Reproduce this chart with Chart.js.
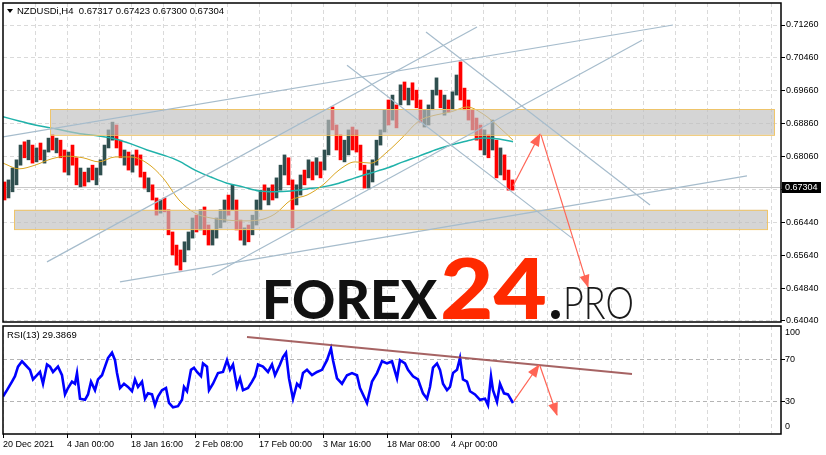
<!DOCTYPE html>
<html>
<head>
<meta charset="utf-8">
<script src="https://cdn.jsdelivr.net/npm/chart.js@4.4.0/dist/chart.umd.min.js"></script>
<style>
html, body { margin: 0; padding: 0; background: #fff; }
#wrap { position: relative; width: 826px; height: 455px; overflow: hidden; }
#price { position: absolute; left: 0; top: 0; }
#rsi { position: absolute; left: 0; top: 323px; }
</style>
</head>
<body>
<div id="wrap">
  <canvas id="price" width="826" height="323"></canvas>
  <canvas id="rsi" width="826" height="132"></canvas>
</div>
<script>
// one column = 4 H4 bars, bar index 0 = 20 Dec 2021 00:00
const BAR = 4;
const firstOpen = 0.6740;
const hi = [0.6743,0.6748,0.6777,0.6797,0.6833,0.6841,0.6845,0.6833,0.6826,0.6838,0.6821,0.6850,0.6858,0.6850,0.6845,0.6821,
  0.6816,0.6833,0.6802,0.6777,0.6767,0.6777,0.6784,0.6777,0.6797,0.6833,0.6870,0.6889,0.6882,0.6845,0.6821,0.6816,
  0.6809,0.6821,0.6809,0.6767,0.6753,0.6736,0.6704,0.6699,0.6704,0.6675,0.6621,0.6589,0.6577,0.6597,0.6621,0.6655,
  0.6662,0.6675,0.6682,0.6638,0.6626,0.6655,0.6675,0.6699,0.6711,0.6736,0.6699,0.6650,0.6631,0.6638,0.6662,0.6699,
  0.6723,0.6736,0.6728,0.6736,0.6753,0.6784,0.6809,0.6802,0.6748,0.6736,0.6760,0.6772,0.6797,0.6792,0.6802,0.6792,
  0.6821,0.6894,0.6926,0.6882,0.6858,0.6845,0.6870,0.6877,0.6870,0.6833,0.6784,0.6772,0.6797,0.6845,0.6870,0.6919,
  0.6943,0.6955,0.6931,0.6980,0.6987,0.6972,0.6985,0.6967,0.6943,0.6919,0.6931,0.6967,0.6997,0.6967,0.6955,0.6943,
  0.6963,0.7004,0.7036,0.6972,0.6943,0.6919,0.6899,0.6882,0.6870,0.6858,0.6894,0.6845,0.6826,0.6809,0.6772,0.6748];
const lo = [0.6699,0.6704,0.6719,0.6736,0.6784,0.6802,0.6797,0.6789,0.6792,0.6797,0.6789,0.6816,0.6821,0.6814,0.6802,0.6767,
  0.6760,0.6784,0.6736,0.6731,0.6733,0.6743,0.6748,0.6736,0.6760,0.6784,0.6826,0.6845,0.6826,0.6802,0.6784,0.6772,
  0.6767,0.6784,0.6755,0.6728,0.6719,0.6699,0.6662,0.6667,0.6670,0.6614,0.6565,0.6540,0.6528,0.6548,0.6577,0.6606,
  0.6621,0.6626,0.6614,0.6589,0.6589,0.6606,0.6631,0.6645,0.6662,0.6675,0.6626,0.6601,0.6589,0.6597,0.6614,0.6638,
  0.6675,0.6699,0.6687,0.6699,0.6704,0.6723,0.6760,0.6736,0.6631,0.6687,0.6711,0.6736,0.6753,0.6748,0.6760,0.6753,
  0.6772,0.6809,0.6870,0.6821,0.6797,0.6792,0.6809,0.6821,0.6816,0.6772,0.6728,0.6728,0.6743,0.6784,0.6833,0.6865,
  0.6882,0.6894,0.6875,0.6931,0.6943,0.6931,0.6943,0.6924,0.6889,0.6877,0.6882,0.6919,0.6955,0.6924,0.6906,0.6914,
  0.6919,0.6955,0.6943,0.6919,0.6894,0.6870,0.6845,0.6821,0.6809,0.6802,0.6821,0.6753,0.6760,0.6748,0.6723,0.6723];
const cl = [0.6711,0.6736,0.6772,0.6789,0.6821,0.6809,0.6833,0.6797,0.6816,0.6802,0.6809,0.6845,0.6833,0.6845,0.6809,0.6784,
  0.6809,0.6797,0.6743,0.6767,0.6743,0.6772,0.6753,0.6772,0.6792,0.6826,0.6865,0.6877,0.6833,0.6809,0.6816,0.6784,
  0.6802,0.6792,0.6760,0.6736,0.6748,0.6704,0.6687,0.6699,0.6675,0.6621,0.6577,0.6565,0.6548,0.6589,0.6614,0.6645,
  0.6631,0.6662,0.6626,0.6601,0.6614,0.6645,0.6662,0.6687,0.6675,0.6711,0.6638,0.6606,0.6621,0.6601,0.6655,0.6687,
  0.6711,0.6704,0.6723,0.6704,0.6748,0.6777,0.6797,0.6743,0.6687,0.6728,0.6753,0.6748,0.6789,0.6760,0.6797,0.6772,
  0.6816,0.6889,0.6882,0.6833,0.6809,0.6841,0.6858,0.6833,0.6826,0.6784,0.6736,0.6767,0.6784,0.6838,0.6865,0.6914,
  0.6899,0.6943,0.6889,0.6972,0.6955,0.6967,0.6955,0.6943,0.6899,0.6914,0.6924,0.6963,0.6967,0.6931,0.6943,0.6924,
  0.6955,0.6987,0.6955,0.6931,0.6906,0.6882,0.6858,0.6833,0.6845,0.6821,0.6845,0.6772,0.6809,0.6760,0.6736,0.6730];

const maBars = [0,16,32,48,64,80,96,112,128,144,160,176,192,208,224,240,256,272,288,304,320,336,352,368,384,400,416,432,448,464,480,496,510];
const ma50 = [0.6789,0.6775,0.6784,0.6799,0.6806,0.6802,0.6792,0.6804,0.6804,0.6789,0.6753,0.6699,0.6667,0.6655,0.6650,0.6648,
  0.6650,0.6665,0.6699,0.6711,0.6736,0.6772,0.6792,0.6789,0.6816,0.6853,0.6892,0.6906,0.6914,0.6926,0.6909,0.6877,0.6845];
const ma200 = [0.6902,0.6892,0.6882,0.6875,0.6867,0.6860,0.6855,0.6848,0.6836,0.6821,0.6809,0.6794,0.6772,0.6755,0.6740,0.6731,
  0.6721,0.6719,0.6721,0.6726,0.6731,0.6740,0.6753,0.6765,0.6777,0.6792,0.6806,0.6821,0.6833,0.6843,0.6850,0.6848,0.6841];

const rsi = [[0,35],[4,41],[9,49],[12,54],[15,63],[19,68],[22,65],[27,60],[30,51],[34,55],[37,58],[40,47],[44,65],[47,63],[50,58],
  [55,63],[59,55],[62,37],[65,43],[69,49],[72,47],[74,57],[77,33],[82,32],[85,37],[88,49],[92,41],[95,51],[99,55],[102,63],
  [105,71],[109,76],[112,69],[114,57],[117,43],[121,47],[125,44],[129,40],[132,51],[135,44],[139,49],[142,33],[145,38],[149,37],
  [152,27],[155,35],[159,41],[163,43],[166,29],[170,25],[175,26],[179,32],[181,44],[184,40],[188,60],[191,62],[194,58],[198,54],
  [200,66],[204,63],[206,41],[210,47],[215,57],[220,58],[224,69],[227,60],[230,65],[234,44],[237,52],[240,41],[245,43],[249,49],
  [252,54],[255,65],[260,63],[265,58],[269,65],[272,55],[277,65],[280,72],[283,76],[286,52],[290,33],[294,47],[297,44],[300,57],
  [304,60],[309,55],[314,58],[319,60],[324,69],[328,80],[330,69],[334,52],[339,47],[344,55],[349,57],[354,55],[357,43],[362,33],
  [364,29],[369,49],[374,57],[379,68],[384,66],[389,68],[394,52],[397,69],[402,66],[405,60],[410,54],[415,51],[420,38],[424,33],
  [427,44],[430,62],[434,66],[437,60],[440,47],[444,41],[447,44],[450,57],[454,60],[457,71],[460,51],[464,49],[467,40],[472,37],
  [477,32],[482,33],[485,27],[488,54],[490,41],[494,30],[497,47],[501,38],[505,37],[510,29]];

const priceTicks = [0.7126,0.7046,0.6966,0.6886,0.6806,0.6725,0.6644,0.6564,0.6484,0.6404];
const rsiLevels = [100,70,30,0];
const dateBars = [0,64,128,192,256,320,384,448];
const dateLabels = ['20 Dec 2021','4 Jan 00:00','18 Jan 16:00','2 Feb 08:00','17 Feb 00:00','3 Mar 16:00','18 Mar 08:00','4 Apr 00:00'];
const lastPrice = 0.67304;
const lastRsi = 29.3869;

// support / resistance zones: [fromBar, toBar, top, bottom]
const zones = [[47,771,0.6921,0.6858],[11,764,0.6675,0.6628]];
// trend lines: [bar1, price1, bar2, price2]
const trendLines = [[0,0.6853,670,0.7126],[117,0.6499,744,0.6758],[44,0.6548,474,0.7121],
  [209,0.6516,639,0.7089],[344,0.7028,569,0.6606],[423,0.7109,647,0.6687]];
const priceArrows = [[510,0.6733,537,0.6860],[538,0.6858,585,0.6487]];
const rsiTrend = [244,90.7,629,56.1];
const rsiArrows = [[511,30.9,536,64.5],[537,63.6,554,17.8]];

const FONT = '"Liberation Sans", Arial, sans-serif';
const ARROW = '#ff6455';

function seg(a, b, c, d) { return [{x: a, y: b}, {x: c, y: d}]; }

function arrowHead(ctx, x1, y1, x2, y2, color) {
  const ang = Math.atan2(y2 - y1, x2 - x1);
  const len = 12, w = 5;
  ctx.save();
  ctx.fillStyle = color;
  ctx.translate(x2, y2);
  ctx.rotate(ang);
  ctx.beginPath();
  ctx.moveTo(1, 0);
  ctx.lineTo(-len, -w);
  ctx.lineTo(-len, w);
  ctx.closePath();
  ctx.fill();
  ctx.restore();
}

function frame(chart) {
  const a = chart.chartArea, ctx = chart.ctx;
  ctx.save();
  ctx.strokeStyle = '#000';
  ctx.lineWidth = 1.5;
  ctx.strokeRect(a.left, a.top, a.right - a.left, a.bottom - a.top);
  ctx.restore();
}

function fitText(ctx, text, x, y, width, font, color) {
  ctx.save();
  ctx.font = font;
  ctx.fillStyle = color;
  ctx.textBaseline = 'alphabetic';
  const m = ctx.measureText(text).width;
  ctx.translate(x, y);
  ctx.scale(width / m, 1);
  ctx.fillText(text, 0, 0);
  ctx.restore();
}

const candleData = hi.map((h, i) => ({x: i * BAR + 1.5, y: [lo[i], h]}));
const candleColors = cl.map((c, i) => c < (i ? cl[i - 1] : firstOpen) ? '#ff0000' : '#2f4f4f');

const pricePlugin = {
  id: 'priceDeco',
  beforeDatasetsDraw(chart) {
    const ctx = chart.ctx, a = chart.chartArea;
    const y = chart.scales.y.getPixelForValue(lastPrice);
    ctx.save();
    ctx.strokeStyle = '#c8c8c8';
    ctx.lineWidth = 1;
    ctx.beginPath();
    ctx.moveTo(a.left, Math.round(y) + 0.5);
    ctx.lineTo(a.right, Math.round(y) + 0.5);
    ctx.stroke();
    ctx.restore();
  },
  afterDatasetDraw(chart, args) {
    if (chart.data.datasets[args.index].label !== 'MA50') return;
    const ctx = chart.ctx, xs = chart.scales.x, ys = chart.scales.y;
    ctx.save();
    zones.forEach(z => {
      const x1 = xs.getPixelForValue(z[0]), x2 = xs.getPixelForValue(z[1]);
      const y1 = ys.getPixelForValue(z[2]), y2 = ys.getPixelForValue(z[3]);
      ctx.fillStyle = 'rgba(192,192,192,0.66)';
      ctx.fillRect(x1, y1, x2 - x1, y2 - y1);
      ctx.strokeStyle = '#efc56a';
      ctx.lineWidth = 1;
      ctx.strokeRect(x1 + 0.5, y1 + 0.5, x2 - x1, y2 - y1);
    });
    ctx.restore();
  },
  afterDatasetsDraw(chart) {
    const xs = chart.scales.x, ys = chart.scales.y;
    priceArrows.forEach(p => arrowHead(chart.ctx, xs.getPixelForValue(p[0]), ys.getPixelForValue(p[1]),
      xs.getPixelForValue(p[2]), ys.getPixelForValue(p[3]), ARROW));
  },
  afterDraw(chart) {
    const ctx = chart.ctx, a = chart.chartArea;
    frame(chart);
    // watermark
    ctx.save();
    ctx.beginPath();
    ctx.rect(a.left, a.top, a.right - a.left, a.bottom - a.top + 1);
    ctx.clip();
    fitText(ctx, 'FOREX', 262, 319, 175, '900 53px Lato, "Noto Sans", sans-serif', '#111');
    fitText(ctx, '24', 440, 319, 107, '900 84px Lato, "Noto Sans", sans-serif', '#ff2a00');
    ctx.fillStyle = '#111';
    ctx.beginPath();
    ctx.arc(555.5, 314.5, 4.5, 0, Math.PI * 2);
    ctx.fill();
    fitText(ctx, 'PRO', 563, 319, 71, '300 45px Lato, "Noto Sans", sans-serif', '#1a1a1a');
    ctx.restore();
    // current price tag
    const y = chart.scales.y.getPixelForValue(lastPrice);
    ctx.save();
    ctx.fillStyle = '#000';
    ctx.fillRect(782, Math.round(y) - 5, 39, 11);
    ctx.fillStyle = '#fff';
    ctx.font = '9px ' + FONT;
    ctx.textBaseline = 'middle';
    ctx.fillText(lastPrice.toFixed(5), 785, Math.round(y) + 0.5);
    // title
    ctx.fillStyle = '#000';
    ctx.beginPath();
    ctx.moveTo(7, 9); ctx.lineTo(13, 9); ctx.lineTo(10, 13); ctx.closePath();
    ctx.fill();
    ctx.font = '9.5px ' + FONT;
    ctx.fillText('NZDUSDi,H4  0.67317 0.67423 0.67300 0.67304', 17, 11);
    ctx.restore();
  }
};

new Chart(document.getElementById('price'), {
  type: 'bar',
  data: {
    datasets: [
      {type: 'bar', label: 'NZDUSD', data: candleData, backgroundColor: candleColors, borderWidth: 0, barThickness: 3, order: 5},
      {type: 'line', label: 'MA200', data: maBars.map((b, i) => ({x: b, y: ma200[i]})), borderColor: '#20b2aa',
        borderWidth: 1.5, pointRadius: 0, cubicInterpolationMode: 'monotone', order: 4},
      {type: 'line', label: 'MA50', data: maBars.map((b, i) => ({x: b, y: ma50[i]})), borderColor: '#daa520',
        borderWidth: 1, pointRadius: 0, cubicInterpolationMode: 'monotone', order: 3},
      ...trendLines.map((t, i) => ({type: 'line', label: 'trend' + i, data: seg(...t), borderColor: '#a6bccc',
        borderWidth: 1.2, pointRadius: 0, order: 2})),
      ...priceArrows.map((t, i) => ({type: 'line', label: 'arrow' + i, data: seg(...t), borderColor: ARROW,
        borderWidth: 1.2, pointRadius: 0, order: 1}))
    ]
  },
  options: {
    responsive: false,
    animation: false,
    events: [],
    layout: {padding: {left: 3, top: 3, right: 0, bottom: 1}},
    plugins: {legend: {display: false}, tooltip: {enabled: false}},
    scales: {
      x: {
        type: 'linear', min: 0, max: 778, offset: false,
        grid: {color: '#dadada', drawTicks: false, offset: false},
        border: {display: false, dash: [4, 3]},
        ticks: {display: false},
        afterBuildTicks: s => { s.ticks = []; for (let v = 32; v <= 768; v += 32) s.ticks.push({value: v}); },
        afterFit: s => { s.height = 0; s.paddingLeft = 0; s.paddingRight = 0; }
      },
      y: {
        position: 'right', min: 0.64013, max: 0.71797,
        grid: {color: '#dadada', tickLength: 4, tickColor: '#000'},
        border: {display: false, dash: [4, 3]},
        ticks: {color: '#000', font: {family: FONT, size: 9}, padding: 1,
          callback: v => v === 0.6725 ? '' : v.toFixed(5)},
        afterBuildTicks: s => { s.ticks = priceTicks.map(v => ({value: v})); },
        afterFit: s => { s.width = 45; s.paddingTop = 0; s.paddingBottom = 0; }
      }
    }
  },
  plugins: [pricePlugin]
});

const rsiPlugin = {
  id: 'rsiDeco',
  afterDatasetsDraw(chart) {
    const xs = chart.scales.x, ys = chart.scales.y;
    rsiArrows.forEach(p => arrowHead(chart.ctx, xs.getPixelForValue(p[0]), ys.getPixelForValue(p[1]),
      xs.getPixelForValue(p[2]), ys.getPixelForValue(p[3]), ARROW));
  },
  afterDraw(chart) {
    const ctx = chart.ctx, a = chart.chartArea, ys = chart.scales.y;
    frame(chart);
    ctx.save();
    ctx.fillStyle = '#000';
    ctx.font = '9px ' + FONT;
    ctx.textBaseline = 'middle';
    rsiLevels.forEach(v => {
      const y = Math.min(Math.max(ys.getPixelForValue(v), a.top + 7), a.bottom - 7);
      ctx.fillText(String(v), a.right + 4, y);
    });
    ctx.font = '9.5px ' + FONT;
    ctx.fillText('RSI(13) ' + lastRsi.toFixed(4), 7, a.top + 9.5);
    ctx.restore();
  }
};

new Chart(document.getElementById('rsi'), {
  type: 'line',
  data: {
    datasets: [
      {label: 'RSI', data: rsi.map(p => ({x: p[0], y: p[1]})), borderColor: '#0000ff', borderWidth: 2.6,
        pointRadius: 0, tension: 0, order: 3},
      {label: 'rsiTrend', data: seg(...rsiTrend), borderColor: 'rgba(150,72,72,0.85)', borderWidth: 1.8,
        pointRadius: 0, order: 2},
      ...rsiArrows.map((t, i) => ({label: 'rsiArrow' + i, data: seg(...t), borderColor: ARROW,
        borderWidth: 1.2, pointRadius: 0, order: 1}))
    ]
  },
  options: {
    responsive: false,
    animation: false,
    events: [],
    layout: {padding: {left: 3, top: 3, right: 0, bottom: 0}},
    plugins: {legend: {display: false}, tooltip: {enabled: false}},
    scales: {
      x: {
        type: 'linear', min: 0, max: 778, offset: false,
        grid: {color: '#dadada', tickLength: 4,
          tickColor: c => dateBars.includes(c.tick && c.tick.value) ? '#000' : 'rgba(0,0,0,0)'},
        border: {display: false, dash: [4, 3]},
        ticks: {color: '#000', font: {family: FONT, size: 9}, padding: 1, align: 'start',
          autoSkip: false, maxRotation: 0,
          callback: v => { const i = dateBars.indexOf(v); return i < 0 ? '' : dateLabels[i]; }},
        afterBuildTicks: s => { s.ticks = []; for (let v = 0; v <= 768; v += 32) s.ticks.push({value: v}); },
        afterFit: s => { s.height = 21; s.paddingLeft = 0; s.paddingRight = 0; }
      },
      y: {
        position: 'right', min: 0, max: 101,
        grid: {color: '#b4b4b4', tickLength: 4, tickColor: '#000'},
        border: {display: false, dash: [4, 3]},
        ticks: {display: false},
        afterBuildTicks: s => { s.ticks = [{value: 30}, {value: 70}]; },
        afterFit: s => { s.width = 45; s.paddingTop = 0; s.paddingBottom = 0; }
      }
    }
  },
  plugins: [rsiPlugin]
});
</script>
</body>
</html>
